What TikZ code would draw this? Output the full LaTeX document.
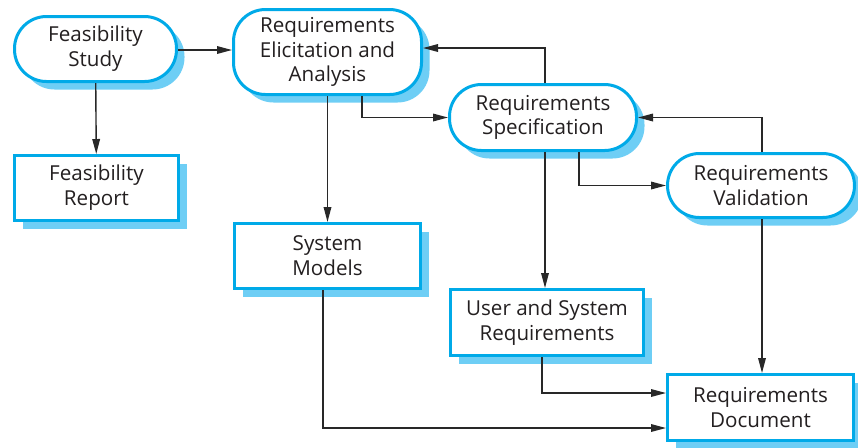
\documentclass[tikz,border=0pt]{standalone}
\usepackage{fontspec}
\setmainfont{Open Sans}
\usetikzlibrary{shadows,arrows.meta}

\definecolor{reqblue}{RGB}{0,170,232}
\definecolor{reqshade}{RGB}{110,206,245}
\definecolor{reqline}{RGB}{40,40,40}
\definecolor{reqtext}{RGB}{35,31,32}

\tikzset{
  activity/.style={draw=reqblue, line width=1.5pt, fill=white, rounded corners=16pt,
    minimum width=93.5pt, minimum height=33pt, align=center, inner sep=0pt,
    text=reqtext, font=\fontsize{10.3}{12.4}\selectfont,
    drop shadow={shadow xshift=4pt, shadow yshift=-4pt, fill=reqshade, opacity=1}},
  product/.style={activity, rounded corners=0pt},
  flow/.style={reqline, line width=0.7pt, -{Triangle[length=7.5pt,width=3.8pt]}}
}

\begin{document}
\begin{tikzpicture}[x=0.5pt, y=-0.5pt]

\useasboundingbox (0,0) rectangle (858,447);

\node (study) at (95.5, 49) [activity, minimum width=81pt, minimum height=32.5pt] {Feasibility\\Study};
\node (report) at (96.5, 188) [product, minimum width=82pt, minimum height=32.5pt] {Feasibility\\Report};

\node (elicit) at (327.5, 52) [activity, minimum width=94pt, minimum height=42.5pt] {Requirements\\Elicitation and\\Analysis};
\node (models) at (327.5, 256) [product, minimum width=93pt, minimum height=32.5pt] {System\\Models};

\node (spec) at (543, 117.5) [activity] {Requirements\\Specification};
\node (usersys) at (547, 322.5) [product, minimum width=96.5pt] {User and System\\Requirements};

\node (valid) at (761, 185.5) [activity, minimum height=32pt] {Requirements\\Validation};
\node (doc) at (760.5, 407.5) [product, minimum width=93pt] {Requirements\\Document};

\draw [flow] (study.east |- 0,50) -- (elicit.west |- 0,50);
\draw [flow] (study) -- (report);
\draw [flow] (elicit) -- (models);
\draw [flow] (362,0 |- elicit.south) |- (spec.west);
\draw [flow] (545,0 |- spec.north) |- ([yshift=2pt]elicit.east);
\draw [flow] (579,0 |- spec.south) |- (valid.west);
\draw [flow] (762,0 |- valid.north) |- (spec.east);
\draw [flow] (545,0 |- spec.south) -- (545,0 |- usersys.north);
\draw [flow] (762,0 |- valid.south) -- (762,0 |- doc.north);
\draw [flow] (542,0 |- usersys.south) |- ([yshift=7.25pt]doc.west);
\draw [flow] (323,0 |- models.south) |- ([yshift=-10.25pt]doc.west);

\end{tikzpicture}
\end{document}
